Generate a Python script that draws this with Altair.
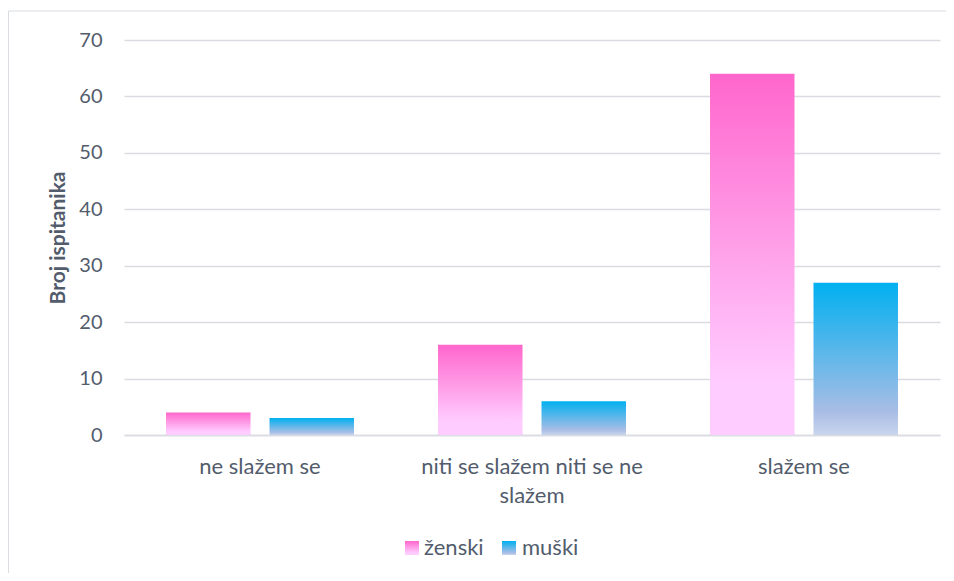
import altair as alt
import pandas as pd

categories = ["ne slažem se", "niti se slažem niti se ne slažem", "slažem se"]
series = ["ženski", "muški"]
zenski = [4, 16, 64]
muski = [3, 6, 27]

rows = []
for c, v in zip(categories, zenski):
    rows.append({"kategorija": c, "spol": "ženski", "broj": v})
for c, v in zip(categories, muski):
    rows.append({"kategorija": c, "spol": "muški", "broj": v})
df = pd.DataFrame(rows)
leg_df = pd.DataFrame({"spol": series})

FONT = "Lato"
TXT = "#525C6C"
GRID = "#D9DCE1"
FS = 22

pink_grad = {"gradient": "linear", "x1": 0, "y1": 0, "x2": 0, "y2": 1,
             "stops": [{"offset": 0, "color": "#FF66CC"},
                       {"offset": 0.85, "color": "#FFCCFF"},
                       {"offset": 1, "color": "#FFCCFF"}]}
blue_grad = {"gradient": "linear", "x1": 0, "y1": 0, "x2": 0, "y2": 1,
             "stops": [{"offset": 0, "color": "#00B0F0"},
                       {"offset": 0.85, "color": "#A9BDE5"},
                       {"offset": 1, "color": "#C8D5EE"}]}

x_enc = alt.X("kategorija:N", sort=categories,
              scale=alt.Scale(paddingInner=0, paddingOuter=0),
              axis=alt.Axis(title=None, labelAngle=0, labelFont=FONT, labelFontSize=FS,
                            labelColor=TXT, ticks=False, domainColor=GRID, domainWidth=1.5,
                            labelPadding=21, labelLineHeight=29, labelLimit=400,
                            labelExpr="datum.value == 'niti se slažem niti se ne slažem' ? ['niti se slažem niti se ne', 'slažem'] : datum.value"))
xo_enc = alt.XOffset("spol:N", sort=series,
                     scale=alt.Scale(domain=series, paddingInner=0.1836, paddingOuter=0.406))
y_enc = alt.Y("broj:Q", scale=alt.Scale(domain=[0, 70]),
              axis=alt.Axis(title="Broj ispitanika", values=list(range(0, 80, 10)),
                            labelFont=FONT, labelFontSize=20, labelColor=TXT,
                            titleFont=FONT, titleFontSize=21, titleColor=TXT, titleFontWeight="bold",
                            titlePadding=10, labelPadding=22, ticks=False, domain=False,
                            gridColor=GRID, gridWidth=1.5))

base = alt.Chart(df)
leg = alt.Chart(leg_df)

border_top = leg.transform_filter("datum.spol == 'ženski'").mark_rule(
    stroke="#D9DCE1", strokeWidth=1).encode(
    x=alt.value(-115.5), x2=alt.value(830), y=alt.value(-29))
border_left = leg.transform_filter("datum.spol == 'ženski'").mark_rule(
    stroke="#D9DCE1", strokeWidth=1).encode(
    x=alt.value(-115.5), y=alt.value(-29), y2=alt.value(540))

pink = base.transform_filter("datum.spol == 'ženski'").mark_bar(color=pink_grad).encode(
    x=x_enc, xOffset=xo_enc, y=y_enc)
blue = base.transform_filter("datum.spol == 'muški'").mark_bar(color=blue_grad).encode(
    x=x_enc, xOffset=xo_enc, y=y_enc)

leg_pink = leg.transform_filter("datum.spol == 'ženski'").mark_square(
    size=196, color=pink_grad, opacity=1).encode(x=alt.value(288), y=alt.value(508))
leg_blue = leg.transform_filter("datum.spol == 'muški'").mark_square(
    size=196, color=blue_grad, opacity=1).encode(x=alt.value(385), y=alt.value(508))
leg_pink_t = leg.transform_filter("datum.spol == 'ženski'").mark_text(
    font=FONT, fontSize=FS, color=TXT, align="left", baseline="middle").encode(
    x=alt.value(300), y=alt.value(508), text="spol:N")
leg_blue_t = leg.transform_filter("datum.spol == 'muški'").mark_text(
    font=FONT, fontSize=FS, color=TXT, align="left", baseline="middle").encode(
    x=alt.value(398), y=alt.value(508), text="spol:N")

chart = alt.layer(border_top, border_left, pink, blue, leg_pink, leg_blue,
                  leg_pink_t, leg_blue_t).properties(
    width=816, height=395,
    padding={"left": 116, "top": 32, "right": 6, "bottom": 138},
    autosize=alt.AutoSizeParams(type="none"),
    background="white",
).configure_view(stroke=None)

chart.save("out.html", embed_options={"renderer": "svg", "actions": False})
